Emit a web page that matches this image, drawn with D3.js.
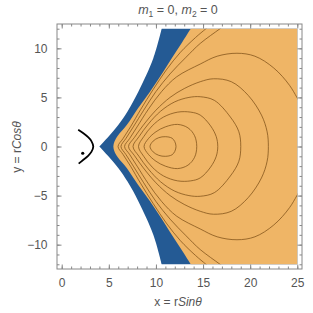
<!DOCTYPE html>
<html lang="en">
<head>
    <meta charset="UTF-8">
    <title>m1 = 0, m2 = 0</title>
    <style>
        body { margin: 0; background: #fff; }
        text { font-family: "Liberation Sans", Arial, sans-serif; fill: #555; }
    </style>
</head>
<body>
<div id="chart"></div>
<script src="https://cdn.jsdelivr.net/npm/d3@7"></script>
<script>
    const width = 313,
        height = 313;

    // tick values
    const xMajor = [0, 5, 10, 15, 20, 25];
    const yMajor = [-10, -5, 0, 5, 10];
    const xMinor = d3.range(0, 26);
    const yMinor = d3.range(-12, 13);

    // allowed region edges
    const regionX = [0, 25];
    const regionY = [-12, 12];
    // left edge of the blue band, upper and lower half (sharp tip)
    const blueUpper = [[10.61, 12], [9.72, 8.99], [8.13, 5.58], [7.0, 3.6], [6.0, 2.19], [5.0, 1.05], [3.99, 0]];
    const blueLower = [[3.99, 0], [5.0, -1.05], [6.0, -2.19], [7.0, -3.6], [8.13, -5.58], [9.72, -8.99], [10.61, -12]];
    const orangeEdge = [[13.69, 12], [12.7, 10.5], [11.68, 8.99], [10.5, 7.2], [9.37, 5.58], [8.1, 3.9], [6.9, 2.19],
        [5.95, 1.1], [5.6, 0.5], [5.48, 0], [5.6, -0.5], [5.95, -1.1], [6.9, -2.19], [8.1, -3.9], [9.37, -5.58],
        [10.5, -7.2], [11.68, -8.99], [12.7, -10.5], [13.69, -12]];

    // closed contour loops
    const loops = [
        [[9.37, 0], [9.7, 0.55], [10.3, 0.9], [11.0, 1.0], [11.7, 0.85], [12.0, 0.5], [12.13, 0],
            [12.0, -0.5], [11.7, -0.85], [11.0, -1.0], [10.3, -0.9], [9.7, -0.55]],
        [[8.74, 0], [9.2, 0.8], [10.0, 1.5], [11.0, 2.0], [12.3, 2.25], [13.4, 1.9], [14.1, 1.1], [14.33, 0],
            [14.1, -1.1], [13.4, -1.9], [12.3, -2.25], [11.0, -2.0], [10.0, -1.5], [9.2, -0.8]],
        [[8.15, 0], [8.7, 1.0], [9.6, 2.1], [10.8, 3.0], [12.3, 3.5], [13.7, 3.5], [14.7, 3.2], [15.8, 2.1], [16.4, 1.0], [16.56, 0],
            [16.4, -1.0], [15.8, -2.1], [14.7, -3.2], [13.7, -3.5], [12.3, -3.5], [10.8, -3.0], [9.6, -2.1], [8.7, -1.0]],
        [[7.57, 0], [8.2, 1.0], [9.2, 2.3], [10.5, 3.6], [12, 4.55], [13.5, 5.0], [14.7, 5.07], [16.2, 4.7], [17.9, 3.0], [18.8, 1.5], [19.0, 0],
            [18.8, -1.5], [17.9, -3.0], [16.2, -4.7], [14.7, -5.07], [13.5, -5.0], [12, -4.55], [10.5, -3.6], [9.2, -2.3], [8.2, -1.0]],
        [[7.09, 0], [7.7, 0.9], [8.6, 2.1], [10, 3.7], [11.5, 5.0], [13, 5.9], [14.7, 6.6], [16.1, 6.9], [18.0, 6.6], [19.8, 5.2], [21.2, 3.2], [21.8, 1.5], [21.93, 0],
            [21.8, -1.5], [21.2, -3.2], [19.8, -5.2], [18.0, -6.6], [16.1, -6.9], [14.7, -6.6], [13, -5.9], [11.5, -5.0], [10, -3.7], [8.6, -2.1], [7.7, -0.9]]
    ];

    // open contours (cut by the region edge)
    const arcs = [
        [[25.4, 4.2], [24.2, 6.2], [22.5, 8.0], [20.5, 9.2], [18.6, 9.5], [16.5, 9.2], [14.7, 8.4], [12.2, 7.1], [10.6, 5.6], [9.2, 3.8], [8.0, 2.0], [7.2, 0.8], [6.67, 0],
            [7.2, -0.8], [8.0, -2.0], [9.2, -3.8], [10.6, -5.6], [12.2, -7.1], [14.7, -8.4], [16.5, -9.2], [18.6, -9.5], [20.5, -9.2], [22.5, -8.0], [24.2, -6.2], [25.4, -4.2]],
        [[17.5, 12.5], [16.8, 12], [14.7, 10.5], [13.2, 9.1], [11.5, 7.4], [10, 5.6], [8.7, 3.7], [7.6, 2.0], [6.8, 0.8], [6.29, 0],
            [6.8, -0.8], [7.6, -2.0], [8.7, -3.7], [10, -5.6], [11.5, -7.4], [13.2, -9.1], [14.7, -10.5], [16.8, -12], [17.5, -12.5]],
        [[15.9, 12.5], [15.3, 12], [14.2, 11.1], [12.6, 9.6], [11.1, 7.8], [9.7, 5.8], [8.4, 3.8], [7.3, 2.0], [6.5, 0.8], [5.98, 0],
            [6.5, -0.8], [7.3, -2.0], [8.4, -3.8], [9.7, -5.8], [11.1, -7.8], [12.6, -9.6], [14.2, -11.1], [15.3, -12], [15.9, -12.5]]
    ];

    // black arc and dot at left
    const blackArc = [[1.75, 1.7], [2.3, 1.35], [2.8, 0.95], [3.15, 0.55], [3.35, 0], [3.15, -0.55], [2.8, -0.95], [2.3, -1.35], [1.8, -1.75]];
    const dot = [2.23, -0.69];

    let svg = d3.select("#chart")
        .append("svg")
        .attr("width", width)
        .attr("height", height)
        .style("background-color", "#fff");

    const x = d3.scaleLinear().domain([-0.5, 25.5]).range([57, 302]);
    const y = d3.scaleLinear().domain([-12.48, 12.48]).range([269, 24]);

    const smooth = d3.line().x(d => x(d[0])).y(d => y(d[1])).curve(d3.curveCatmullRom);
    const closed = d3.line().x(d => x(d[0])).y(d => y(d[1])).curve(d3.curveCatmullRomClosed);
    const rightSide = "L" + x(regionX[1]) + "," + y(regionY[0]) + "L" + x(regionX[1]) + "," + y(regionY[1]) + "Z";

    // blue band: everything right of the blue edge inside the region
    svg.append("path")
        .attr("d", smooth(blueUpper) + smooth(blueLower).replace("M", "L") + rightSide)
        .attr("fill", "#245a94");

    const orangePath = smooth(orangeEdge) + rightSide;

    svg.append("path")
        .attr("d", orangePath)
        .attr("fill", "#efb566");

    svg.append("clipPath").attr("id", "clipOrange")
        .append("path").attr("d", orangePath);

    let g = svg.append("g").attr("clip-path", "url(#clipOrange)")
        .attr("fill", "none")
        .attr("stroke", "#7f5219")
        .attr("stroke-width", 0.9)
        .attr("stroke-opacity", 0.85);

    g.selectAll("path.loop")
        .data(loops)
        .join("path")
        .attr("class", "loop")
        .attr("d", closed);

    g.selectAll("path.arc")
        .data(arcs)
        .join("path")
        .attr("class", "arc")
        .attr("d", smooth);

    // black arc + dot
    svg.append("path")
        .attr("d", smooth(blackArc))
        .attr("fill", "none")
        .attr("stroke", "#000")
        .attr("stroke-width", 1.8);

    svg.append("circle")
        .attr("cx", x(dot[0]))
        .attr("cy", y(dot[1]))
        .attr("r", 1.6)
        .attr("fill", "#000");

    // frame
    svg.append("rect")
        .attr("x", 57).attr("y", 24)
        .attr("width", 245).attr("height", 245)
        .attr("fill", "none")
        .attr("stroke", "#888")
        .attr("stroke-width", 1);

    function ticks(axis, vals, size, pos, labels) {
        let a = svg.append("g")
            .attr("transform", pos)
            .call(axis.tickValues(vals).tickSize(-size).tickPadding(size + 5)
                .tickFormat(labels ? d3.format("d") : ""));
        a.select(".domain").remove();
        a.selectAll(".tick line").attr("stroke", "#888");
        a.selectAll(".tick text")
            .attr("fill", "#666")
            .style("font-size", "12px")
            .style("font-family", "Liberation Sans, Arial, sans-serif");
        return a;
    }

    ticks(d3.axisBottom(x), xMinor, 2.5, "translate(0,269)", false);
    ticks(d3.axisBottom(x), xMajor, 4.5, "translate(0,269)", true);
    ticks(d3.axisTop(x), xMinor, 2.5, "translate(0,24)", false);
    ticks(d3.axisTop(x), xMajor, 4.5, "translate(0,24)", false);
    ticks(d3.axisLeft(y), yMinor, 2.5, "translate(57,0)", false);
    ticks(d3.axisLeft(y), yMajor, 4.5, "translate(57,0)", true)
        .selectAll(".tick text").text(d => d < 0 ? "\u2212" + (-d) : d);
    ticks(d3.axisRight(y), yMinor, 2.5, "translate(302,0)", false);
    ticks(d3.axisRight(y), yMajor, 4.5, "translate(302,0)", false);

    // title
    let title = svg.append("text")
        .attr("x", 178).attr("y", 14)
        .attr("text-anchor", "middle")
        .style("font-size", "12.5px");
    title.append("tspan").attr("font-style", "italic").text("m");
    title.append("tspan").attr("dy", 3).style("font-size", "8.5px").text("1");
    title.append("tspan").attr("dy", -3).text(" = 0, ");
    title.append("tspan").attr("font-style", "italic").text("m");
    title.append("tspan").attr("dy", 3).style("font-size", "8.5px").text("2");
    title.append("tspan").attr("dy", -3).text(" = 0");

    // axis labels
    let xl = svg.append("text")
        .attr("x", 178).attr("y", 306)
        .attr("text-anchor", "middle")
        .style("font-size", "12px");
    xl.append("tspan").text("x = r");
    xl.append("tspan").attr("font-style", "italic").text("Sin\u03b8");

    let yl = svg.append("text")
        .attr("transform", "translate(21,147) rotate(-90)")
        .attr("text-anchor", "middle")
        .style("font-size", "12px");
    yl.append("tspan").text("y = r");
    yl.append("tspan").attr("font-style", "italic").text("Cos\u03b8");
</script>
</body>
</html>
